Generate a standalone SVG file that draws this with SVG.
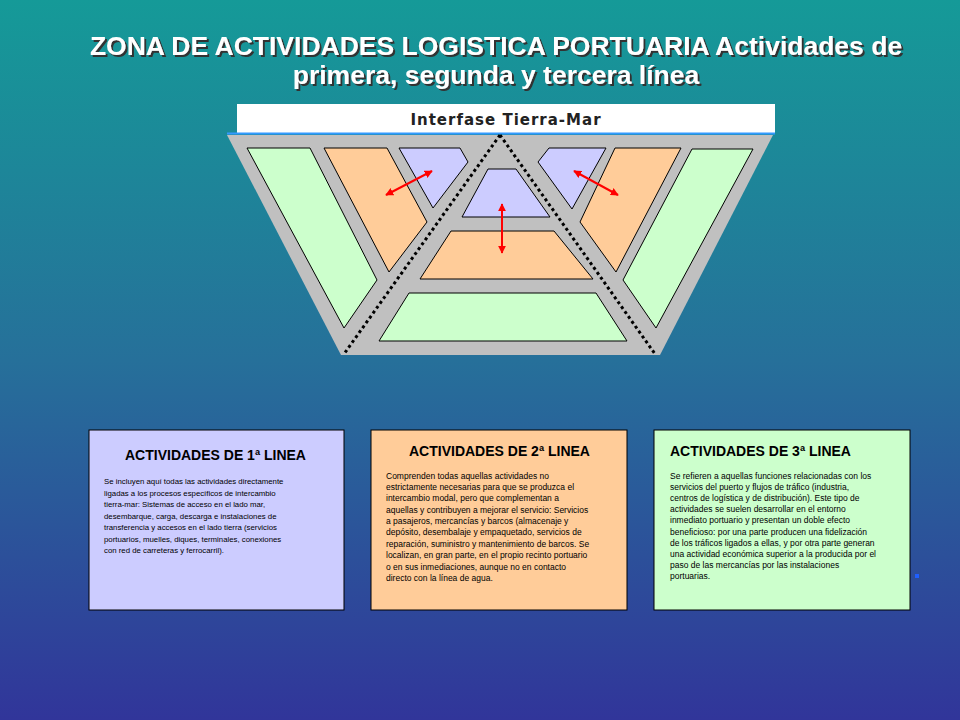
<svg xmlns="http://www.w3.org/2000/svg" width="960" height="720" viewBox="0 0 960 720">
<defs>
<linearGradient id="bg" x1="0" y1="0" x2="0" y2="1">
<stop offset="0" stop-color="#159a98"/>
<stop offset="0.5" stop-color="#26709a"/>
<stop offset="1" stop-color="#31359a"/>
</linearGradient>
<filter id="sh" x="-5%" y="-30%" width="110%" height="160%"><feDropShadow dx="2" dy="2" stdDeviation="0" flood-color="#333"/></filter>
<marker id="ah" viewBox="0 0 10 10" refX="9" refY="5" markerWidth="4" markerHeight="4" orient="auto-start-reverse"><path d="M0,0L10,5L0,10z" fill="#ff0000"/></marker>
</defs>
<style>
.t{font-family:"Liberation Sans",Arial,sans-serif;font-weight:bold;fill:#fff;font-size:26.5px;text-anchor:middle}
.z{stroke:#000;stroke-width:1}
.g{fill:#ccffcc}.o{fill:#ffcc99}.p{fill:#ccccff}
.box{stroke:#000;stroke-width:1}
.h{font-family:"Liberation Sans",Arial,sans-serif;font-weight:bold;font-size:14px;fill:#000}
.b{font-family:"Liberation Sans",Arial,sans-serif;font-size:7.8px;fill:#000}
.b2{font-family:"Liberation Sans",Arial,sans-serif;font-size:8.5px;fill:#000}
.arr{stroke:#ff0000;stroke-width:2;fill:none;marker-start:url(#ah);marker-end:url(#ah)}
.dot{stroke:#000;stroke-width:3;stroke-dasharray:3 3;fill:none}
</style>
<rect width="960" height="720" fill="url(#bg)"/>
<g id="title" filter="url(#sh)">
<text class="t" x="496" y="55">ZONA DE ACTIVIDADES LOGISTICA PORTUARIA Actividades de</text>
<text class="t" x="496" y="84">primera, segunda y tercera línea</text>
</g>
<g id="interfase">
<rect x="237" y="104" width="538" height="29" fill="#fff"/>
<line x1="227" y1="133.5" x2="775" y2="133.5" stroke="#3399ff" stroke-width="2"/>
<text x="506" y="125" text-anchor="middle" font-family="'DejaVu Sans',sans-serif" font-weight="bold" font-size="15" letter-spacing="1" fill="#222">Interfase  Tierra-Mar</text>
</g>
<g id="plan">
<polygon points="227,135 773,135 660,355 341,355" fill="#c0c0c0"/>
<polygon class="z g" points="247,148 310,148 377,280 344,328"/>
<polygon class="z o" points="324,148 387,148 427,222 389,272"/>
<polygon class="z p" points="399,148 460,148 468,162 433,208"/>
<polygon class="z p" points="488,169 516,169 550,217 462,217"/>
<polygon class="z o" points="451,231 554,231 593,279 420,279"/>
<polygon class="z g" points="409,293 596,293 627,341 379,341"/>
<polygon class="z p" points="549,148 606,148 572,209 538,162"/>
<polygon class="z o" points="615,148 681,148 616,272 580,222"/>
<polygon class="z g" points="692,149 753,149 656,328 623,280"/>
</g>
<g id="connectors">
<path class="dot" d="M500,135L344,354"/>
<path class="dot" d="M500,135L655,354"/>
<line class="arr" x1="386" y1="195" x2="432" y2="171"/>
<line class="arr" x1="502" y1="204" x2="502" y2="253"/>
<line class="arr" x1="574" y1="171" x2="618" y2="195"/>
</g>
<g id="box1">
<rect class="box p" x="89" y="430" width="255" height="180"/>
<text class="h" x="125" y="460">ACTIVIDADES DE 1ª LINEA</text>
<text class="b" x="104" y="484">Se incluyen aquí todas las actividades directamente</text>
<text class="b" x="104" y="496">ligadas a los procesos específicos de intercambio</text>
<text class="b" x="104" y="507">tierra-mar: Sistemas de acceso en el lado mar,</text>
<text class="b" x="104" y="519">desembarque, carga, descarga e instalaciones de</text>
<text class="b" x="104" y="530">transferencia y accesos en el lado tierra (servicios</text>
<text class="b" x="104" y="542">portuarios, muelles, diques, terminales, conexiones</text>
<text class="b" x="104" y="553">con red de carreteras y ferrocarril).</text>
</g>
<g id="box2">
<rect class="box o" x="371" y="430" width="256" height="180"/>
<text class="h" x="409" y="456">ACTIVIDADES DE 2ª LINEA</text>
<text class="b2" x="386" y="479">Comprenden todas aquellas actividades no</text>
<text class="b2" x="386" y="490">estrictamente necesarias para que se produzca el</text>
<text class="b2" x="386" y="501">intercambio modal, pero que complementan a</text>
<text class="b2" x="386" y="513">aquellas y contribuyen a mejorar el servicio: Servicios</text>
<text class="b2" x="386" y="524">a pasajeros, mercancías y barcos (almacenaje y</text>
<text class="b2" x="386" y="535">depósito, desembalaje y empaquetado, servicios de</text>
<text class="b2" x="386" y="547">reparación, suministro y mantenimiento de barcos. Se</text>
<text class="b2" x="386" y="558">localizan, en gran parte, en el propio recinto portuario</text>
<text class="b2" x="386" y="570">o en sus inmediaciones, aunque no en contacto</text>
<text class="b2" x="386" y="581">directo con la línea de agua.</text>
</g>
<g id="box3">
<rect class="box g" x="654" y="430" width="256" height="180"/>
<text class="h" x="670" y="456">ACTIVIDADES DE 3ª LINEA</text>
<text class="b2" x="670" y="479">Se refieren a aquellas funciones relacionadas con los</text>
<text class="b2" x="670" y="490">servicios del puerto y flujos de tráfico (industria,</text>
<text class="b2" x="670" y="501">centros de logística y de distribución). Este tipo de</text>
<text class="b2" x="670" y="512">actividades se suelen desarrollar en el entorno</text>
<text class="b2" x="670" y="523">inmediato portuario y presentan un doble efecto</text>
<text class="b2" x="670" y="535">beneficioso: por una parte producen una fidelización</text>
<text class="b2" x="670" y="546">de los tráficos ligados a ellas, y por otra parte generan</text>
<text class="b2" x="670" y="557">una actividad económica superior a la producida por el</text>
<text class="b2" x="670" y="568">paso de las mercancías por las instalaciones</text>
<text class="b2" x="670" y="579">portuarias.</text>
</g>
<rect x="915" y="574" width="4" height="4" fill="#1f5fff"/>
</svg>
